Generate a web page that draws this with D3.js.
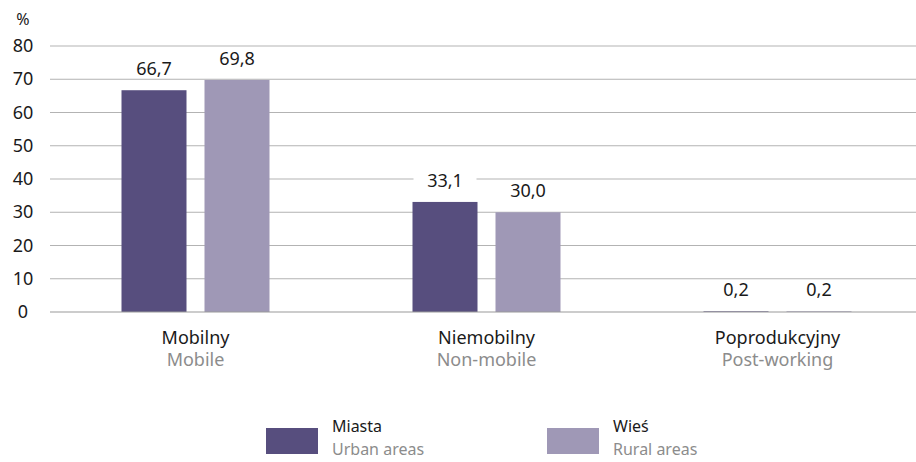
<!DOCTYPE html>
<html>
<head>
<meta charset="utf-8">
<script src="https://cdn.jsdelivr.net/npm/d3@7"></script>
<style>
  body { margin: 0; background: #fff; }
  text { font-family: "Noto Sans", sans-serif; }
</style>
</head>
<body>
<svg width="916" height="462"></svg>
<script>
// Data
const categories = ["Mobilny", "Niemobilny", "Poprodukcyjny"];
const categoriesEn = ["Mobile", "Non-mobile", "Post-working"];
const seriesNames = ["Miasta", "Wieś"];
const seriesNamesEn = ["Urban areas", "Rural areas"];
const urban = [66.7, 33.1, 0.2];
const rural = [69.8, 30.0, 0.2];
const yTicks = [0, 10, 20, 30, 40, 50, 60, 70, 80];

const colors = ["#574e7e", "#9f98b6"];
const fmt = v => d3.format(".1f")(v).replace(".", ",");

const svg = d3.select("svg");
const width = +svg.attr("width");
const plotLeft = 50, plotRight = 923;
const yTop = 46, yBottom = 312;

const xScale = d3.scaleBand().domain(categories).range([plotLeft, plotRight]);
// two bars per group, 65px wide with an 18px gap
const xInner = d3.scaleBand().domain([0, 1]).range([-74, 74]).paddingInner(18 / 83);
const yScale = d3.scaleLinear().domain([0, 80]).range([yBottom, yTop]);

// Gridlines
svg.append("g")
   .selectAll("line")
   .data(yTicks.filter(d => d > 0))
   .join("line")
   .attr("x1", plotLeft)
   .attr("x2", width)
   .attr("y1", d => yScale(d))
   .attr("y2", d => yScale(d))
   .attr("stroke", "#b3b3b3")
   .attr("stroke-width", 1);

// Y tick labels
svg.append("g")
   .selectAll("text")
   .data(yTicks)
   .join("text")
   .attr("x", 23)
   .attr("y", d => yScale(d) + 6)
   .attr("text-anchor", "middle")
   .style("font-size", "18px")
   .style("fill", "#1a1a1a")
   .text(d => d);

svg.append("text")
   .attr("x", 23)
   .attr("y", 25)
   .attr("text-anchor", "middle")
   .style("font-size", "16px")
   .style("fill", "#1a1a1a")
   .text("%");

// Bars and labels
const rows = categories.map((c, i) => ({ cat: c, vals: [urban[i], rural[i]] }));
const groups = svg.append("g")
   .selectAll("g")
   .data(rows)
   .join("g")
   .attr("transform", d => `translate(${xScale(d.cat) + xScale.bandwidth() / 2},0)`);

groups.selectAll("rect.bar")
   .data(d => d.vals.map((v, j) => ({ v, j })))
   .join("rect")
   .attr("class", "bar")
   .attr("x", d => xInner(d.j))
   .attr("width", xInner.bandwidth())
   .attr("y", d => yScale(d.v))
   .attr("height", d => yBottom - yScale(d.v))
   .attr("fill", d => colors[d.j]);

// White label backgrounds (they break the gridlines)
groups.selectAll("rect.bg")
   .data(d => d.vals.map((v, j) => ({ v, j })))
   .join("rect")
   .attr("class", "bg")
   .attr("x", d => xInner(d.j) + 1)
   .attr("width", xInner.bandwidth() - 2)
   .attr("y", d => yScale(d.v) - 29)
   .attr("height", 15)
   .attr("fill", "#fff");

groups.selectAll("text.val")
   .data(d => d.vals.map((v, j) => ({ v, j })))
   .join("text")
   .attr("class", "val")
   .attr("x", d => xInner(d.j) + xInner.bandwidth() / 2)
   .attr("y", d => yScale(d.v) - 15)
   .attr("text-anchor", "middle")
   .style("font-size", "18px")
   .style("fill", "#1a1a1a")
   .text(d => fmt(d.v));

// Zero line
svg.append("line")
   .attr("x1", plotLeft)
   .attr("x2", width)
   .attr("y1", yBottom)
   .attr("y2", yBottom)
   .attr("stroke", "#999")
   .attr("stroke-width", 1.2);

// Category labels
groups.append("text")
   .attr("y", 344)
   .attr("text-anchor", "middle")
   .style("font-size", "18px")
   .style("fill", "#1a1a1a")
   .text(d => d.cat);

groups.append("text")
   .attr("y", 366)
   .attr("text-anchor", "middle")
   .style("font-size", "18px")
   .style("fill", "#8c8c8c")
   .text((d, i) => categoriesEn[i]);

// Legend
const legendX = [266, 547];
const legend = svg.append("g")
   .selectAll("g")
   .data(seriesNames)
   .join("g")
   .attr("transform", (d, i) => `translate(${legendX[i]},428)`);

legend.append("rect")
   .attr("width", 52)
   .attr("height", 26)
   .attr("fill", (d, i) => colors[i]);

legend.append("text")
   .attr("x", 66)
   .attr("y", 4)
   .style("font-size", "16px")
   .style("fill", "#1a1a1a")
   .text(d => d);

legend.append("text")
   .attr("x", 66)
   .attr("y", 27)
   .style("font-size", "16px")
   .style("fill", "#8c8c8c")
   .text((d, i) => seriesNamesEn[i]);
</script>
</body>
</html>
